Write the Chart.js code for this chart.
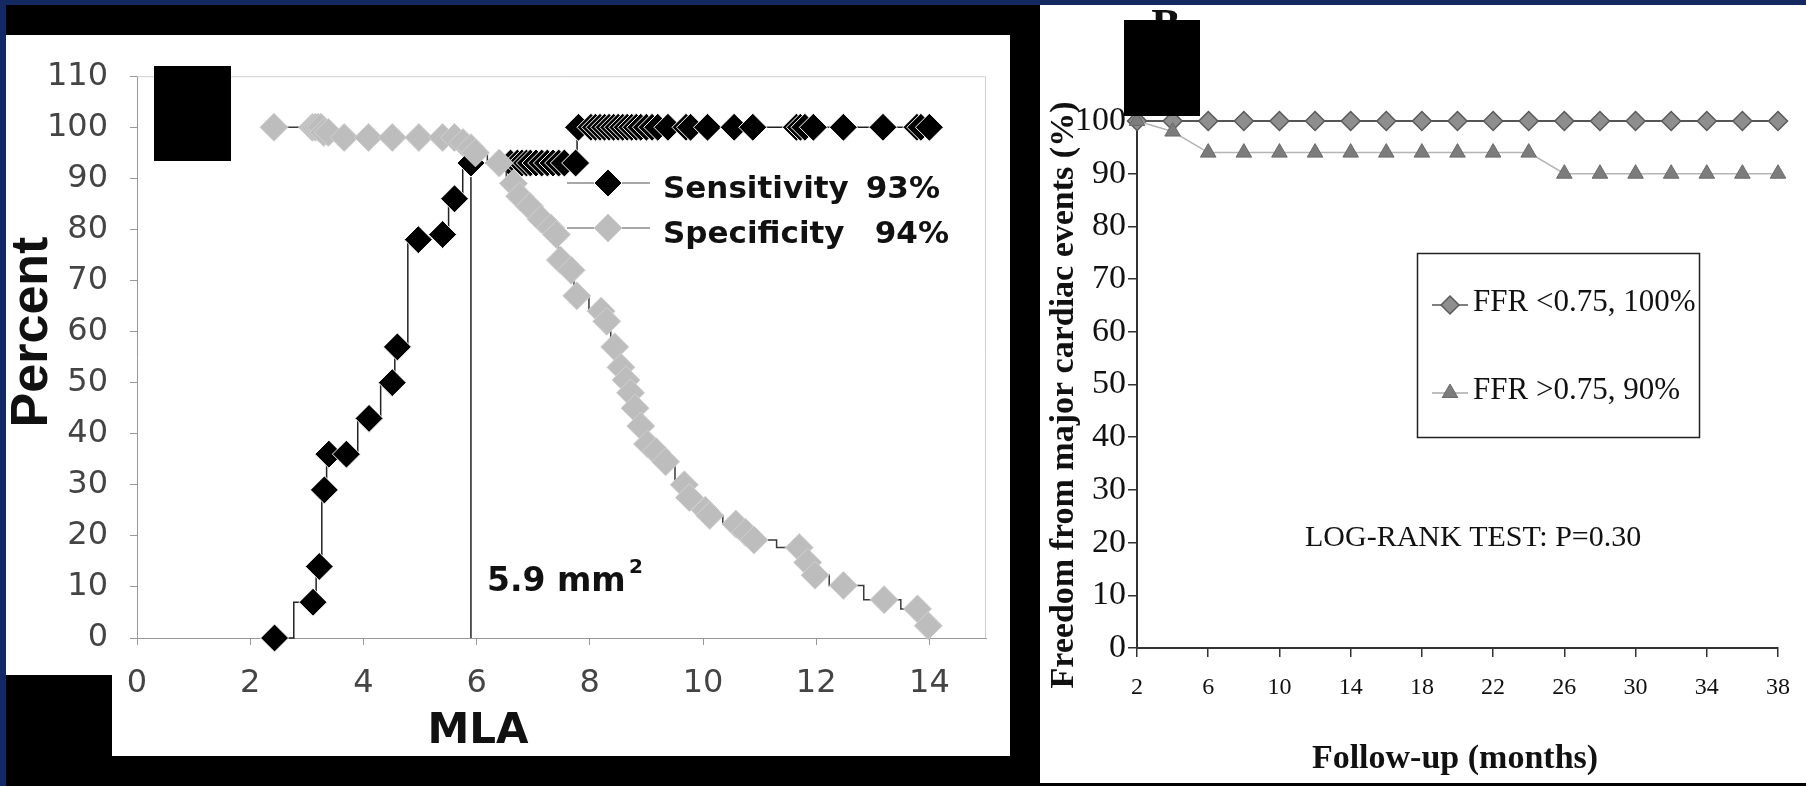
<!DOCTYPE html>
<html>
<head>
<meta charset="utf-8">
<script src="https://cdn.jsdelivr.net/npm/chart.js@4.4.0/dist/chart.umd.min.js"></script>
<style>
  html, body { margin: 0; padding: 0; }
  body { width: 1806px; height: 786px; background: #13295f; position: relative; overflow: hidden; }
  .box { position: absolute; }
  .box canvas { display: block; }
  #frame { left: 6px; top: 5px; width: 1800px; height: 781px; background: #000; }
  #panelA { left: 6px; top: 35px; width: 1004px; height: 721px; background: #fff; }
  #panelB { left: 1040px; top: 5px; width: 766px; height: 778px; background: #fff; }
  .mask { position: absolute; background: #000; }
</style>
</head>
<body>
<div class="box" id="frame"></div>
<div class="box" id="panelA"><canvas id="chartA" width="1004" height="721"></canvas></div>
<div class="box" id="panelB"><canvas id="chartB" width="766" height="778"></canvas></div>
<div class="mask" style="left:6px;top:675px;width:106px;height:81px"></div>
<div class="mask" style="left:154px;top:66px;width:77px;height:95px"></div>
<div class="mask" style="left:1124px;top:20px;width:76px;height:96px"></div>

<script>
// ---- panel A : sensitivity / specificity against MLA ----
var mlaTicks = [0, 2, 4, 6, 8, 10, 12, 14];
var pctTicks = [0, 10, 20, 30, 40, 50, 60, 70, 80, 90, 100, 110];

var sensMla = [2.43, 3.11, 3.22, 3.31, 3.39, 3.70, 4.10, 4.51, 4.60, 4.97, 5.40, 5.61, 5.90,
  6.60, 6.72, 6.80, 6.88, 6.95, 7.05, 7.15, 7.25, 7.35, 7.45, 7.55, 7.75,
  7.80, 8.02, 8.10, 8.18, 8.26, 8.34, 8.42, 8.50, 8.58, 8.66, 8.74, 8.82, 8.90, 9.00, 9.10, 9.20,
  9.38, 9.70, 9.78, 10.08, 10.55, 10.88, 11.65, 11.72, 11.80, 11.95, 12.48, 13.18, 13.78, 13.85, 14.0];
var sensPct = [0, 7, 14, 29, 36, 36, 43, 50, 57, 78, 79, 86, 93,
  93, 93, 93, 93, 93, 93, 93, 93, 93, 93, 93, 93,
  100, 100, 100, 100, 100, 100, 100, 100, 100, 100, 100, 100, 100, 100, 100, 100,
  100, 100, 100, 100, 100, 100, 100, 100, 100, 100, 100, 100, 100, 100, 100];

var specMla = [2.42, 3.10, 3.15, 3.20, 3.25, 3.30, 3.38, 3.66, 4.09, 4.51, 4.98, 5.40, 5.61, 5.76, 5.90, 5.98,
  6.40, 6.65, 6.76, 6.94, 7.14, 7.31, 7.41, 7.48, 7.67, 7.77, 8.20, 8.30, 8.44, 8.55, 8.64, 8.72, 8.80,
  8.90, 9.02, 9.17, 9.34, 9.67, 9.76, 10.04, 10.12, 10.58, 10.75, 10.90, 11.70, 11.85, 11.98, 12.48,
  13.20, 13.79, 13.98];
var specPct = [100, 100, 100, 100, 100, 99, 99, 98, 98, 98, 98, 98, 98, 97, 96, 95,
  93, 89, 86.5, 84.5, 82, 80.3, 79, 74, 72, 67, 64, 62, 57, 53, 50.5, 48, 45,
  41.5, 38, 36.5, 34.5, 30, 27.5, 25, 24, 22.3, 20.7, 19.2, 17.7, 14.8, 12.3, 10.3,
  7.5, 5.7, 2.4];

var cutMla = [5.9, 5.9];
var cutPct = [0, 93];

// ---- panel B : follow-up ----
var months = [2, 4, 6, 8, 10, 12, 14, 16, 18, 20, 22, 24, 26, 28, 30, 32, 34, 36, 38];
var monthTicks = [2, 6, 10, 14, 18, 22, 26, 30, 34, 38];
var freeTicks = [0, 10, 20, 30, 40, 50, 60, 70, 80, 90, 100];
var ffrLow = [100, 100, 100, 100, 100, 100, 100, 100, 100, 100, 100, 100, 100, 100, 100, 100, 100, 100, 100];
var ffrHigh = [100, 98, 94, 94, 94, 94, 94, 94, 94, 94, 94, 94, 90, 90, 90, 90, 90, 90, 90];

function pts(xs, ys) {
  return xs.map(function (x, i) { return { x: x, y: ys[i] }; });
}

function marker(ctx, style, r, fill, stroke, bw, x, y) {
  ctx.save();
  ctx.fillStyle = fill;
  ctx.strokeStyle = stroke;
  ctx.lineWidth = bw;
  Chart.helpers.drawPoint(ctx, { pointStyle: style, radius: r, rotation: 0, borderWidth: bw }, x, y);
  ctx.restore();
}

var sensColor = '#000000';
var specColor = '#bdbdbd';
var diamondR = 14;

var decorA = {
  id: 'decorA',
  beforeDatasetsDraw: function (chart) {
    var a = chart.chartArea, ctx = chart.ctx;
    ctx.save();
    // frame top / right
    ctx.strokeStyle = '#cfcfcf';
    ctx.lineWidth = 1;
    ctx.beginPath();
    ctx.moveTo(a.left, a.top + 0.5);
    ctx.lineTo(a.right - 0.5, a.top + 0.5);
    ctx.lineTo(a.right - 0.5, a.bottom);
    ctx.stroke();
    // legend lines
    ctx.strokeStyle = '#8a8a8a';
    ctx.lineWidth = 1.5;
    ctx.beginPath();
    ctx.moveTo(561, 148); ctx.lineTo(644, 148);
    ctx.moveTo(561, 193); ctx.lineTo(644, 193);
    ctx.stroke();
    ctx.restore();
    marker(ctx, 'rectRot', diamondR, sensColor, '#ffffff', 1, 602, 148);
    marker(ctx, 'rectRot', diamondR, specColor, '#d0d0d0', 1, 602, 193);

    ctx.save();
    ctx.fillStyle = '#111';
    ctx.font = 'bold 31px "DejaVu Sans"';
    ctx.textBaseline = 'middle';
    ctx.textAlign = 'left';
    ctx.fillText('Sensitivity', 657, 155);
    ctx.fillText('Specificity', 657, 200);
    ctx.textAlign = 'right';
    ctx.fillText('93%', 934, 155);
    ctx.fillText('94%', 943, 200);
    ctx.restore();
  },
  afterDraw: function (chart) {
    var ctx = chart.ctx;
    ctx.save();
    ctx.fillStyle = '#111';
    ctx.textAlign = 'left';
    ctx.textBaseline = 'alphabetic';
    ctx.font = 'bold 33px "DejaVu Sans"';
    ctx.fillText('5.9 mm', 481, 556);
    ctx.font = 'bold 20px "DejaVu Sans"';
    ctx.fillText('2', 623, 538);

    ctx.textAlign = 'center';
    ctx.textBaseline = 'middle';
    ctx.font = 'bold 42px "DejaVu Sans"';
    ctx.fillText('MLA', 472, 697);

    ctx.translate(27, 297);
    ctx.rotate(-Math.PI / 2);
    ctx.font = 'bold 52px "Liberation Sans"';
    ctx.fillText('Percent', 0, 0);
    ctx.restore();
  }
};

new Chart(document.getElementById('chartA'), {
  type: 'line',
  data: {
    datasets: [{
      label: 'Specificity',
      data: pts(specMla, specPct),
      order: 0,
      stepped: 'middle',
      borderColor: '#3a3a3a',
      borderWidth: 1.5,
      pointStyle: 'rectRot',
      pointRadius: diamondR,
      pointBackgroundColor: specColor,
      pointBorderColor: '#d0d0d0',
      pointBorderWidth: 1,
      clip: false
    }, {
      label: 'Sensitivity',
      data: pts(sensMla, sensPct),
      order: 1,
      stepped: 'middle',
      borderColor: '#222',
      borderWidth: 1.5,
      pointStyle: 'rectRot',
      pointRadius: diamondR,
      pointBackgroundColor: sensColor,
      pointBorderColor: '#ffffff',
      pointBorderWidth: 1,
      clip: false
    }, {
      label: 'cut-off',
      data: pts(cutMla, cutPct),
      order: 2,
      borderColor: '#222',
      borderWidth: 1.5,
      pointRadius: 0
    }]
  },
  options: {
    responsive: false,
    animation: false,
    devicePixelRatio: 1,
    layout: { padding: { top: 25, right: 24, left: 0, bottom: 0 } },
    plugins: { legend: { display: false }, tooltip: { enabled: false } },
    scales: {
      x: {
        type: 'linear', min: 0, max: 15,
        afterBuildTicks: function (s) { s.ticks = mlaTicks.map(function (v) { return { value: v }; }); },
        afterFit: function (s) { s.height = 118; },
        grid: { drawOnChartArea: false, drawTicks: true, tickLength: 7, color: '#999' },
        border: { color: '#999', width: 1 },
        ticks: { color: '#444', padding: 19, font: { family: 'DejaVu Sans', size: 32 }, maxRotation: 0 }
      },
      y: {
        type: 'linear', min: 0, max: 110,
        afterBuildTicks: function (s) { s.ticks = pctTicks.map(function (v) { return { value: v }; }); },
        afterFit: function (s) { s.width = 131; },
        grid: { drawOnChartArea: false, drawTicks: true, tickLength: 7, color: '#999' },
        border: { color: '#999', width: 1 },
        ticks: { color: '#444', padding: 22, font: { family: 'DejaVu Sans', size: 32 } }
      }
    }
  },
  plugins: [decorA]
});

// ---- panel B ----
var decorB = {
  id: 'decorB',
  afterDraw: function (chart) {
    var ctx = chart.ctx;
    ctx.save();
    ctx.fillStyle = '#111';
    // partly hidden panel letter
    ctx.font = 'bold 44px "Liberation Serif"';
    ctx.textAlign = 'center';
    ctx.textBaseline = 'alphabetic';
    ctx.fillText('B', 126, 34);

    // legend box
    ctx.strokeStyle = '#222';
    ctx.lineWidth = 1.5;
    ctx.strokeRect(377.5, 248.5, 282, 184);
    ctx.strokeStyle = '#555';
    ctx.beginPath(); ctx.moveTo(392, 300); ctx.lineTo(428, 300); ctx.stroke();
    ctx.strokeStyle = '#aaa';
    ctx.beginPath(); ctx.moveTo(392, 388); ctx.lineTo(428, 388); ctx.stroke();
    ctx.restore();
    marker(ctx, 'rectRot', 9, '#8e8e8e', '#5a5a5a', 1.5, 410, 300);
    marker(ctx, 'triangle', 9, '#7c7c7c', '#6a6a6a', 1, 410, 388);

    ctx.save();
    ctx.fillStyle = '#111';
    ctx.textAlign = 'left';
    ctx.textBaseline = 'middle';
    ctx.font = '31px "Liberation Serif"';
    ctx.fillText('FFR <0.75, 100%', 433, 298);
    ctx.fillText('FFR >0.75, 90%', 433, 386);
    ctx.font = '30px "Liberation Serif"';
    ctx.fillText('LOG-RANK TEST: P=0.30', 265, 533);

    ctx.textAlign = 'center';
    ctx.font = 'bold 34px "Liberation Serif"';
    ctx.fillText('Follow-up (months)', 415, 754);
    ctx.translate(24, 390);
    ctx.rotate(-Math.PI / 2);
    ctx.fillText('Freedom from major cardiac events (%)', 0, 0);
    ctx.restore();
  }
};

new Chart(document.getElementById('chartB'), {
  type: 'line',
  data: {
    datasets: [{
      label: 'FFR >0.75, 90%',
      data: pts(months, ffrHigh),
      order: 0,
      borderColor: '#b5b5b5',
      borderWidth: 1.5,
      pointStyle: 'triangle',
      pointRadius: 9,
      pointBackgroundColor: '#7c7c7c',
      pointBorderColor: '#6a6a6a',
      pointBorderWidth: 1,
      clip: false
    }, {
      label: 'FFR <0.75, 100%',
      data: pts(months, ffrLow),
      order: 1,
      borderColor: '#555',
      borderWidth: 2,
      pointStyle: 'rectRot',
      pointRadius: 9.5,
      pointBackgroundColor: '#8e8e8e',
      pointBorderColor: '#5a5a5a',
      pointBorderWidth: 1.5,
      clip: false
    }]
  },
  options: {
    responsive: false,
    animation: false,
    devicePixelRatio: 1,
    layout: { padding: { top: 116, right: 13, left: 0, bottom: 0 } },
    plugins: { legend: { display: false }, tooltip: { enabled: false } },
    scales: {
      x: {
        type: 'linear', min: 2, max: 38,
        afterBuildTicks: function (s) { s.ticks = monthTicks.map(function (v) { return { value: v }; }); },
        afterFit: function (s) { s.height = 135; },
        grid: { drawOnChartArea: false, drawTicks: true, tickLength: 9, color: '#333', lineWidth: 1.5 },
        border: { color: '#333', width: 2 },
        ticks: { color: '#111', padding: 16, font: { family: 'Liberation Serif', size: 24 }, maxRotation: 0 }
      },
      y: {
        type: 'linear', min: 0, max: 100,
        afterBuildTicks: function (s) { s.ticks = freeTicks.map(function (v) { return { value: v }; }); },
        afterFit: function (s) { s.width = 97; },
        grid: { drawOnChartArea: false, drawTicks: true, tickLength: 9, color: '#333', lineWidth: 1.5 },
        border: { color: '#333', width: 2 },
        ticks: { color: '#111', padding: 2, font: { family: 'Liberation Serif', size: 34 } }
      }
    }
  },
  plugins: [decorB]
});
</script>
</body>
</html>
